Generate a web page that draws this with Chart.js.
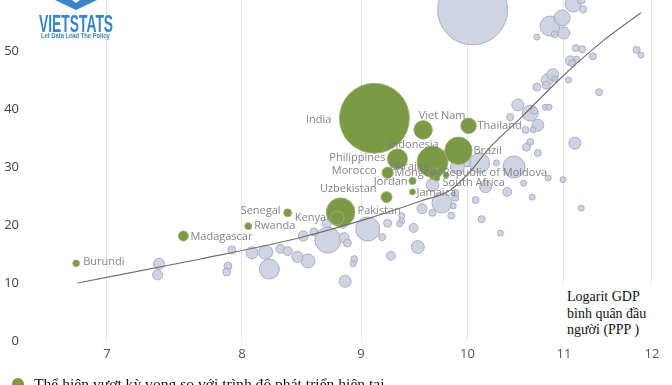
<!DOCTYPE html>
<html>
<head>
<meta charset="utf-8">
<script src="https://cdn.jsdelivr.net/npm/chart.js@4.4.0/dist/chart.umd.min.js"></script>
<style>
    html, body { margin: 0; padding: 0; background: #fff; overflow: hidden; }
    body { width: 672px; height: 385px; position: relative; }
    #wrap { position: absolute; left: 0; top: -40px; width: 672px; height: 460px; }
    .logo-mark { position: absolute; left: 55px; top: 0; width: 0; height: 0;
        border-left: 21px solid transparent; border-right: 21px solid transparent; border-top: 10px solid #3a84c6; }
    .logo-notch { position: absolute; left: 72px; top: 0; width: 0; height: 0;
        border-left: 4px solid transparent; border-right: 4px solid transparent; border-top: 3px solid #fff; }
    .logo-text { position: absolute; left: 39px; top: 11px; font: bold 23px "Liberation Sans Narrow", "Liberation Sans", sans-serif;
        color: #3a84c6; transform-origin: left top; white-space: nowrap; }
    .logo-tag { position: absolute; left: 41px; top: 31px; font: bold 8px "Liberation Sans", sans-serif;
        color: #3a84c6; transform-origin: left top; white-space: nowrap; }
    .axis-note { position: absolute; left: 557px; top: 283px; width: 115px; height: 58px; background: #fff;
        box-sizing: border-box; padding: 6px 0 0 10px; font: 14px "Liberation Serif", serif; line-height: 16.5px; color: #111; }
    .legend { position: absolute; left: 0; top: 375px; width: 672px; font: 15.6px "Liberation Serif", serif; color: #111; }
    .legend i { position: absolute; left: 12px; top: 3px; width: 12px; height: 12px; border-radius: 50%; background: #7b9a45; }
    .legend span { position: absolute; left: 34px; top: 0; white-space: nowrap; }
</style>
</head>
<body>
<div id="wrap"><canvas id="bubbleChart" width="672" height="460"></canvas></div>
<div class="logo-mark"></div>
<div class="logo-notch"></div>
<div class="logo-text" id="logoText">VIETSTATS</div>
<div class="logo-tag" id="logoTag">Let Data Lead The Policy</div>
<div class="axis-note">Logarit GDP<br>bình quân đầu<br>người (PPP )</div>
<div class="legend"><i></i><span>Thể hiện vượt kỳ vọng so với trình độ phát triển hiện tại</span></div>
<script>
// squeeze the logo text to its width
function fitWidth(id, w) {
    const el = document.getElementById(id);
    el.style.transform = 'scaleX(' + (w / el.offsetWidth) + ')';
}
fitWidth('logoText', 74);
fitWidth('logoTag', 69);

// axis ticks
const xTicks = [7, 8, 9, 10, 11, 12];
const yTicks = [0, 10, 20, 30, 40, 50];

// countries doing better than expected (green)
const greenNames = ['India', 'Indonesia', 'Pakistan', 'Brazil', 'Philippines', 'Viet Nam', 'Thailand', 'Kenya',
    'Ukraine', 'Morocco', 'Uzbekistan', 'Madagascar', 'Senegal', 'Rwanda', 'Burundi', 'Jordan',
    'Mongolia', 'Republic of Moldova', 'Jamaica'];
const greenGdp = [9.12, 9.66, 8.82, 9.91, 9.33, 9.57, 10.01, 8.79, 9.68, 9.24, 9.23, 7.55, 8.37, 8.05, 6.79, 9.47, 9.79, 9.70, 9.47];
const greenScore = [38.4, 30.9, 22.2, 32.8, 31.4, 36.4, 37.1, 21.2, 28.8, 29.0, 24.8, 18.1, 22.1, 19.8, 13.4, 27.6, 28.6, 28.1, 25.7];
const greenPop = [1400, 275, 235, 215, 115, 98, 70, 54, 41, 37, 35, 29, 18, 14, 13, 15, 3.4, 2.6, 2.8];

// other countries (grey); only the first one carries a label
const grayNames = ['South Africa'];
const grayGdp = [9.66, 10.05, 10.85, 10.98, 11.10, 11.19, 11.21, 10.90, 11.00, 10.71, 11.13, 11.20, 11.32, 11.07, 11.14, 11.09, 11.82, 11.87,
    10.82, 10.88, 10.90, 11.05, 10.71, 10.81, 11.39, 10.51, 10.64, 10.68, 10.80, 10.84, 10.43, 10.72, 10.59, 10.67,
    10.64, 10.60, 10.72, 11.12, 9.90, 10.00, 10.12, 10.29, 10.47, 10.83, 10.99, 10.57, 10.18, 10.40, 10.66,
    10.08, 9.88, 9.88, 9.75, 9.86, 9.56, 9.66, 9.84, 10.14, 11.19, 10.33, 9.37, 9.37, 9.35, 9.48, 9.24, 9.19, 9.06,
    9.52, 9.27, 8.70, 8.84, 8.71, 8.85, 8.88, 8.94, 8.93, 8.86, 8.50, 8.59, 8.54, 8.45, 8.31, 8.37, 8.08, 8.19, 8.22,
    7.92, 7.89, 7.88, 7.37, 7.36];
const grayScore = [26.9, 57.1, 54.3, 55.7, 58.1, 58.8, 57.2, 52.9, 53.1, 52.4, 50.5, 50.3, 49.1, 48.3, 48.6, 47.9, 50.2, 49.3,
    45.0, 45.9, 45.2, 45.0, 43.8, 44.1, 42.9, 40.7, 39.3, 39.7, 40.3, 40.3, 38.6, 37.2, 36.4, 36.4,
    34.3, 33.4, 32.4, 34.1, 30.0, 30.7, 30.7, 30.7, 30.0, 28.1, 27.8, 27.2, 26.6, 25.7, 24.8,
    24.3, 24.7, 25.5, 23.8, 23.3, 22.8, 22.1, 21.6, 21.0, 22.9, 18.6, 21.6, 20.7, 20.2, 19.5, 20.3, 17.9, 19.3,
    16.2, 14.7, 20.2, 20.3, 17.4, 17.8, 16.9, 14.1, 13.3, 10.3, 18.1, 18.8, 13.8, 14.5, 15.9, 15.5, 15.2, 15.3, 12.4,
    15.7, 12.9, 11.9, 13.3, 11.4];
const grayPop = [45, 1400, 114, 73, 73, 18, 14, 14, 41, 10, 14, 14, 14, 29, 10, 14, 14, 7,
    41, 41, 10, 7, 18, 18, 14, 41, 73, 14, 7, 7, 14, 41, 14, 10,
    14, 18, 14, 41, 56, 18, 114, 10, 138, 10, 10, 10, 41, 23, 10,
    14, 14, 14, 114, 10, 29, 14, 14, 14, 7, 7, 10, 10, 10, 23, 18, 14, 165,
    48, 23, 23, 29, 193, 29, 18, 14, 10, 41, 29, 18, 56, 35, 23, 23, 41, 56, 114,
    18, 18, 18, 35, 29];

// fitted curve
const trendGdp = [6.80, 7.67, 8.47, 9.11, 9.54, 9.83, 10.02, 10.22, 10.53, 10.99, 11.43, 11.87];
const trendScore = [10.0, 14.1, 17.8, 21.4, 24.1, 26.0, 29.1, 33.3, 38.3, 45.7, 51.7, 56.6];

// where each label sits next to its bubble: [align, dx, dy]
const labelPlace = {
    'Burundi': ['left', 7, -1], 'Madagascar': ['left', 7, 1], 'Rwanda': ['left', 6, 0],
    'Senegal': ['right', -7, -2], 'Kenya': ['right', -11, 0], 'Pakistan': ['left', 17, -1],
    'Uzbekistan': ['right', -10, -8], 'Jordan': ['right', -5, 1], 'Jamaica': ['left', 4, 1],
    'Morocco': ['right', -11, -2], 'Philippines': ['right', -12, -1], 'India': ['right', -43, 2],
    'Indonesia': ['center', -19, -17], 'Viet Nam': ['center', 19, -14], 'Thailand': ['left', 9, 0],
    'Brazil': ['left', 15, 0], 'Ukraine': ['right', -5, -7], 'Mongolia': ['right', -4, -2],
    'Republic of Moldova': ['left', 6, -5], 'South Africa': ['left', 10, -2]
};

function toPoints(xs, ys, pops) {
    return xs.map((x, i) => ({
        x: x,
        y: ys[i],
        r: pops ? Math.max(3, 0.935 * Math.sqrt(pops[i])) : 0
    }));
}

const labelPlugin = {
    id: 'countryLabels',
    afterDatasetsDraw(chart) {
        const ctx = chart.ctx;
        ctx.save();
        ctx.font = '11px "Open Sans"';
        ctx.fillStyle = 'rgba(125,125,125,0.95)';
        ctx.textBaseline = 'middle';
        chart.data.datasets.forEach((ds, di) => {
            if (!ds.names) return;
            const meta = chart.getDatasetMeta(di);
            ds.names.forEach((name, i) => {
                const place = labelPlace[name];
                if (!place) return;
                const pt = meta.data[i];
                ctx.textAlign = place[0];
                ctx.fillText(name, pt.x + place[1], pt.y + place[2]);
            });
        });
        ctx.restore();
    }
};

const ctx = document.getElementById('bubbleChart').getContext('2d');

const bubbleChart = new Chart(ctx, {
    type: 'bubble',
    data: {
        datasets: [
            {
                type: 'line',
                label: 'Trend',
                data: toPoints(trendGdp, trendScore),
                borderColor: '#707070',
                borderWidth: 1.2,
                pointRadius: 0,
                cubicInterpolationMode: 'monotone',
                fill: false
            },
            {
                label: 'Vượt kỳ vọng',
                names: greenNames,
                data: toPoints(greenGdp, greenScore, greenPop),
                backgroundColor: '#7b9a45',
                borderColor: 'rgba(160,175,120,0.9)',
                borderWidth: 1,
                clip: false
            },
            {
                label: 'Khác',
                names: grayNames,
                data: toPoints(grayGdp, grayScore, grayPop),
                backgroundColor: 'rgba(200,204,219,0.85)',
                borderColor: 'rgba(165,170,192,0.9)',
                borderWidth: 1,
                clip: false
            }
        ]
    },
    options: {
        responsive: false,
        animation: false,
        events: [],
        layout: { autoPadding: false, padding: { top: 33, right: 3.4, left: 0, bottom: 0 } },
        scales: {
            x: {
                type: 'logarithmic',
                min: 6.5,
                max: 12.2,
                afterBuildTicks: (s) => { s.ticks = xTicks.map(v => ({ value: v })); },
                afterFit: (s) => { s.height = 79; },
                grid: { color: '#e6e6e6', drawTicks: false },
                border: { display: false },
                ticks: {
                    padding: 5,
                    color: '#555',
                    font: { size: 13, family: 'Open Sans' },
                    autoSkip: false,
                    maxRotation: 0,
                    callback: (v) => String(v)
                }
            },
            y: {
                min: 0,
                max: 60,
                afterBuildTicks: (s) => { s.ticks = yTicks.map(v => ({ value: v })); },
                afterFit: (s) => { s.width = 32; },
                grid: { display: false },
                border: { display: false },
                ticks: {
                    padding: 5,
                    color: '#404040',
                    font: { size: 13, family: 'Open Sans' }
                }
            }
        },
        plugins: {
            legend: { display: false },
            tooltip: { enabled: false }
        }
    },
    plugins: [labelPlugin]
});
</script>
</body>
</html>
